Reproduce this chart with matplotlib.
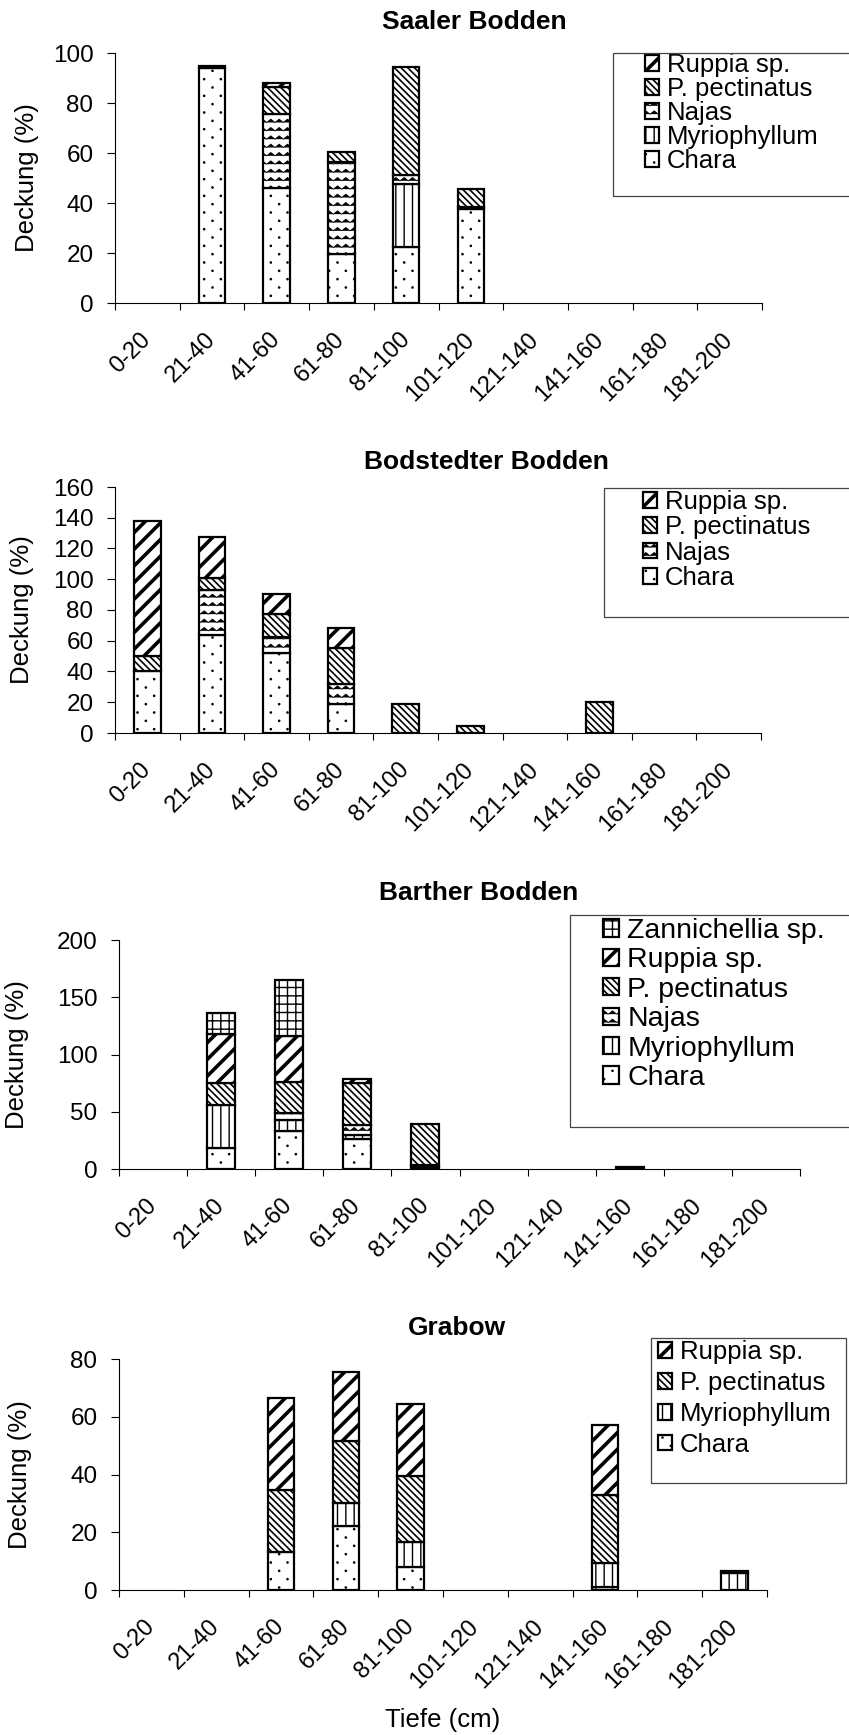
import numpy as np
import matplotlib
matplotlib.use("Agg")
import matplotlib.pyplot as plt
import matplotlib.hatch as mhatch
from matplotlib.path import Path
from matplotlib.patches import Rectangle
from matplotlib import transforms

plt.rcParams['font.family'] = ['Liberation Sans', 'DejaVu Sans']
plt.rcParams['hatch.color'] = 'black'

# depth classes (cm)
depth = ['0-20', '21-40', '41-60', '61-80', '81-100',
         '101-120', '121-140', '141-160', '161-180', '181-200']

# cover (%) per depth class
saaler_chara  = [0, 94, 46, 19.5, 22.5, 37.5, 0, 0, 0, 0]
saaler_myrio  = [0, 0, 0, 0, 25, 0, 0, 0, 0, 0]
saaler_najas  = [0, 0, 29.5, 37, 3.5, 1, 0, 0, 0, 0]
saaler_pect   = [0, 0, 11, 4, 43.5, 7, 0, 0, 0, 0]
saaler_ruppia = [0, 0.6, 1.5, 0, 0, 0, 0, 0, 0, 0]

bods_chara  = [40, 64, 52, 19, 0, 0, 0, 0, 0, 0]
bods_najas  = [0, 29, 10.5, 13, 0, 0, 0, 0, 0, 0]
bods_pect   = [10, 7.5, 15, 23, 19, 4.5, 0, 20, 0, 0]
bods_ruppia = [88, 27, 13, 13, 0, 0, 0, 0, 0, 0]

barth_chara  = [0, 18, 33, 26, 1.5, 0, 0, 0, 0, 0]
barth_myrio  = [0, 38, 10, 3.5, 0, 0, 0, 0, 0, 0]
barth_najas  = [0, 0, 6, 9, 2, 0, 0, 0, 0, 0]
barth_pect   = [0, 19.5, 27, 37, 36, 0, 0, 0, 0, 0]
barth_ruppia = [0, 42, 40, 3.5, 0, 0, 0, 2, 0, 0]
barth_zann   = [0, 19, 49, 0, 0, 0, 0, 0, 0, 0]

grab_chara  = [0, 0, 13, 22, 8, 0, 0, 1, 0, 0]
grab_myrio  = [0, 0, 0, 8, 8.5, 0, 0, 8.5, 0, 6]
grab_pect   = [0, 0, 21.5, 21.5, 23, 0, 0, 23.5, 0, 0]
grab_ruppia = [0, 0, 32, 24, 25, 0, 0, 24, 0, 0.6]


# zigzag rows for Najas, picked up by 'O' in a hatch string
class WaveHatch(mhatch.HatchPatternBase):
    def __init__(self, hatch, density):
        self.num_rows = hatch.count('O') * density
        self.teeth = 12
        self.num_vertices = self.num_rows * (2 * self.teeth + 1)

    def set_vertices_and_codes(self, vertices, codes):
        n = 2 * self.teeth + 1
        xs = np.linspace(0, 1, n)
        amp = 0.2 / max(self.num_rows, 1)
        wiggle = np.where(np.arange(n) % 2 == 0, -amp, amp)
        for i in range(self.num_rows):
            y = (i + 0.5) / self.num_rows
            vertices[i * n:(i + 1) * n, 0] = xs
            vertices[i * n:(i + 1) * n, 1] = y + wiggle
            codes[i * n] = Path.MOVETO
            codes[i * n + 1:(i + 1) * n] = Path.LINETO


# sparse staggered dots for Chara, picked up by '*'
class DotHatch(mhatch.HatchPatternBase):
    def __init__(self, hatch, density):
        self.num_rows = hatch.count('*') * density
        self.per_row = self.num_rows // 2
        circle = Path.unit_circle()
        self.shape_vertices = circle.vertices
        self.shape_codes = circle.codes
        self.num_vertices = self.num_rows * self.per_row * len(circle.vertices)

    def set_vertices_and_codes(self, vertices, codes):
        m = len(self.shape_vertices)
        k = 0
        for row in range(self.num_rows):
            y = (row + 0.5) / self.num_rows
            shift = 0.5 if row % 2 else 0.0
            for c in range(self.per_row):
                xc = (c + 0.25 + shift) / self.per_row
                vertices[k:k + m] = self.shape_vertices * 0.006 + [xc, y]
                codes[k:k + m] = self.shape_codes
                k += m


mhatch._hatch_types = [h for h in mhatch._hatch_types
                       if h not in (mhatch.LargeCircles, mhatch.Stars)] + [WaveHatch, DotHatch]

BS = chr(92)
# hatch, hatch linewidth per species
STYLE = {
    'Chara':             ('**', 1.0),
    'Myriophyllum':      ('||', 1.0),
    'Najas':             ('OO', 0.6),
    'P. pectinatus':     (BS * 5, 1.2),
    'Ruppia sp.':        ('//', 2.6),
    'Zannichellia sp.':  ('++', 1.0),
}


def hatch_lw(patch, lw):
    if hasattr(patch, 'set_hatch_linewidth'):
        patch.set_hatch_linewidth(lw)
    else:
        patch._hatch_linewidth = lw


W, H = 849, 1735


def fx(x):
    return x / W


def fy(y):
    return 1 - y / H


panels = [
    dict(title='Saaler Bodden', ylim=100, step=20,
         rect=(115, 762, 53, 303), title_xy=(474, 22),
         box=(613, 53, 860, 196), leg_xy=(645, 53), spacing=0.0, legsize=18.5,
         ylab_x=15,
         series=[('Chara', saaler_chara), ('Myriophyllum', saaler_myrio),
                 ('Najas', saaler_najas), ('P. pectinatus', saaler_pect),
                 ('Ruppia sp.', saaler_ruppia)]),
    dict(title='Bodstedter Bodden', ylim=160, step=20,
         rect=(115, 761, 487, 733), title_xy=(486, 462),
         box=(604, 488, 860, 617), leg_xy=(643, 490), spacing=0.05, legsize=18.5,
         ylab_x=10,
         series=[('Chara', bods_chara), ('Najas', bods_najas),
                 ('P. pectinatus', bods_pect), ('Ruppia sp.', bods_ruppia)]),
    dict(title='Barther Bodden', ylim=200, step=50,
         rect=(119, 800, 940, 1169), title_xy=(479, 893),
         box=(570, 915, 860, 1127), leg_xy=(603, 918), spacing=0.12, legsize=20.5,
         ylab_x=5,
         series=[('Chara', barth_chara), ('Myriophyllum', barth_myrio),
                 ('Najas', barth_najas), ('P. pectinatus', barth_pect),
                 ('Ruppia sp.', barth_ruppia), ('Zannichellia sp.', barth_zann)]),
    dict(title='Grabow', ylim=80, step=20,
         rect=(119, 767, 1359, 1590), title_xy=(457, 1328),
         box=(651, 1338, 846, 1483), leg_xy=(658, 1340), spacing=0.27, legsize=18.5,
         ylab_x=8,
         series=[('Chara', grab_chara), ('Myriophyllum', grab_myrio),
                 ('P. pectinatus', grab_pect), ('Ruppia sp.', grab_ruppia)]),
]

fig = plt.figure(figsize=(W / 100, H / 100), dpi=100)
x = np.arange(len(depth)) + 0.5

for k, p in enumerate(panels):
    left, right, top, bottom = p['rect']
    ax = fig.add_axes([fx(left), fy(bottom), (right - left) / W, (bottom - top) / H])

    base = np.zeros(len(depth))
    handles = []
    for name, vals in p['series']:
        vals = np.asarray(vals, dtype=float)
        hatch, hlw = STYLE[name]
        plt.rcParams['hatch.linewidth'] = hlw
        m = vals > 0
        bars = ax.bar(x[m], vals[m], bottom=base[m], width=0.41,
                      color='white', edgecolor='black', linewidth=1.6,
                      hatch=hatch, label=name)
        for r in bars.patches:
            hatch_lw(r, hlw)
        handles.append(bars)
        base += vals

    ax.set_xlim(0, len(depth))
    ax.set_ylim(0, p['ylim'])
    ax.set_yticks(np.arange(0, p['ylim'] + 1, p['step']))
    ax.set_xticks(np.arange(len(depth) + 1))
    ax.set_xticklabels([])
    ax.set_xticks(x, minor=True)
    ax.set_xticklabels(depth, minor=True, rotation=45, ha='right',
                       va='center', rotation_mode='anchor')
    ax.tick_params(axis='x', which='minor', length=0, pad=24, labelsize=17)
    ax.tick_params(axis='x', which='major', length=5, width=0.8, direction='out')
    ax.tick_params(axis='y', length=5.5, width=0.8, pad=10, labelsize=17.5)
    for s in ('top', 'right'):
        ax.spines[s].set_visible(False)
    for s in ('left', 'bottom'):
        ax.spines[s].set_linewidth(0.8)

    ax.set_ylabel('Deckung (%)', fontsize=18.5)
    ax.yaxis.set_label_coords(
        fx(p['ylab_x']), 0.5,
        transform=transforms.blended_transform_factory(fig.transFigure, ax.transAxes))
    ax.yaxis.label.set_va('top')

    fig.text(fx(p['title_xy'][0]), fy(p['title_xy'][1]), p['title'],
             ha='center', va='center', fontsize=19, fontweight='bold')

    x0, y0, x1, y1 = p['box']
    fig.patches.append(Rectangle((fx(x0), fy(y1)), (x1 - x0) / W, (y1 - y0) / H,
                                 transform=fig.transFigure, fill=False,
                                 edgecolor='#444444', linewidth=0.9))
    names = [n for n, _ in p['series']][::-1]
    leg = ax.legend(handles[::-1], names,
                    loc='upper left', bbox_to_anchor=(fx(p['leg_xy'][0]), fy(p['leg_xy'][1])),
                    bbox_transform=fig.transFigure, frameon=False, fontsize=p['legsize'],
                    borderpad=0, borderaxespad=0, handlelength=0.55, handleheight=0.55,
                    handletextpad=0.3, labelspacing=p['spacing'])
    for h, n in zip(leg.legend_handles, names):
        hatch_lw(h, STYLE[n][1])

    if k == len(panels) - 1:
        ax.set_xlabel('Tiefe (cm)', fontsize=18.5, labelpad=11)

fig.savefig('out.png', dpi=100)
